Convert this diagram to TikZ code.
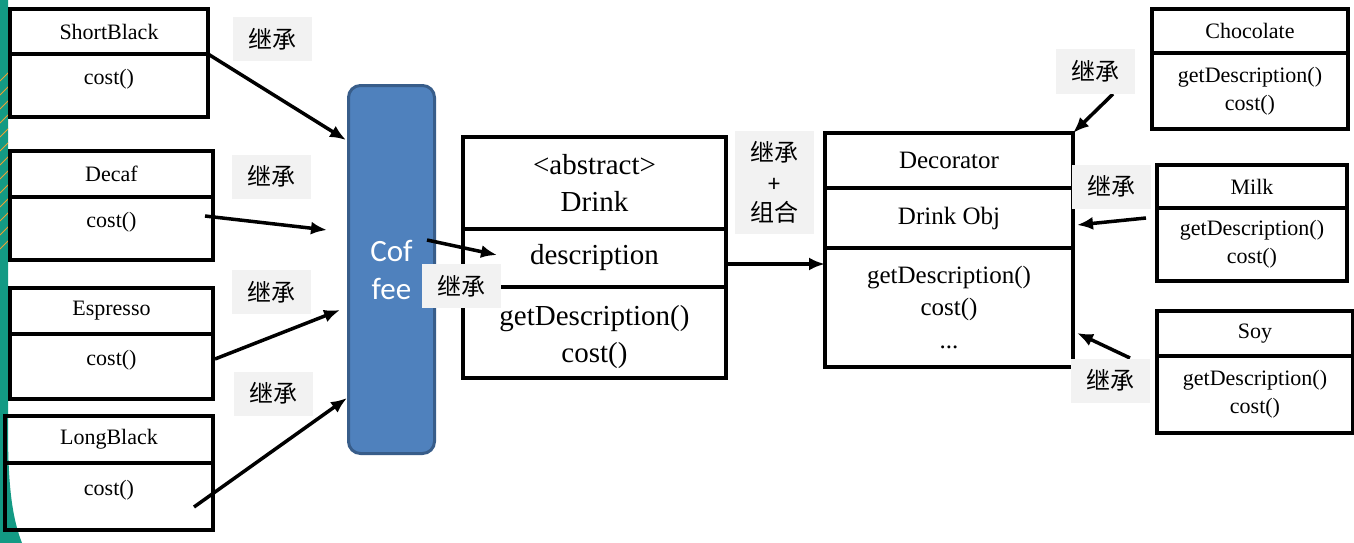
\documentclass[tikz,border=0pt]{standalone}
\usepackage{fontspec}
\setmainfont{Liberation Serif}
\newfontfamily\cjkfont{Noto Sans CJK SC}
\newfontfamily\calfont{Carlito}
\usetikzlibrary{positioning, arrows.meta}
\definecolor{tagbg}{HTML}{F2F2F2}
\definecolor{coffeefill}{HTML}{4F81BD}
\definecolor{coffeeline}{HTML}{385D8A}
\definecolor{stripe}{HTML}{139A84}
\definecolor{stripeline}{HTML}{F0A030}
\tikzset{
  cell/.style={draw, line width=4pt, outer sep=0pt, inner sep=0pt, anchor=north west, align=center},
  small/.style={font=\fontsize{22}{28}\selectfont},
  mid/.style={font=\fontsize{25}{32.5}\selectfont},
  big/.style={font=\fontsize{29}{37}\selectfont},
  tag/.style={fill=tagbg, minimum width=79pt, minimum height=44pt, inner sep=0pt, align=center,
    font=\cjkfont\fontsize{24}{30}\selectfont},
  arr/.style={line width=3.5pt, -{Latex[length=16pt,width=13pt]}},
}

\begin{document}
\begin{tikzpicture}[x=1pt, y=-1pt]
    \fill[white] (0,0) rectangle (1354,543);
    \useasboundingbox (0,0) rectangle (1354,543);

    % slide edge
    \begin{scope}
      \clip (0,0) -- (8,0) -- (8,430) .. controls (8,490) and (13,520) .. (22,543) -- (0,543) -- cycle;
      \fill[stripe] (0,0) rectangle (30,543);
      \foreach \y in {72,86,...,240}
        \draw[stripeline, line width=1pt] (0,\y+9) -- (9,\y);
    \end{scope}

    % concrete drinks
    \node[cell, small, minimum width=198pt, minimum height=45pt] (sb-h) at (10,9) {ShortBlack};
    \node[cell, minimum width=198pt, minimum height=63pt] (sb-b) at (sb-h.south west) {};
    \node[small] at ([yshift=-25pt]sb-b.north) {cost()};

    \node[cell, small, minimum width=203pt, minimum height=46pt] (dc-h) at (10,151) {Decaf};
    \node[cell, minimum width=203pt, minimum height=63pt] (dc-b) at (dc-h.south west) {};
    \node[small] at ([yshift=-25pt]dc-b.north) {cost()};

    \node[cell, small, minimum width=203pt, minimum height=46pt] (es-h) at (10,288) {Espresso};
    \node[cell, minimum width=203pt, minimum height=65pt] (es-b) at (es-h.south west) {};
    \node[small] at ([yshift=-26pt]es-b.north) {cost()};

    \node[cell, small, minimum width=208pt, minimum height=47pt] (lb-h) at (5,416) {LongBlack};
    \node[cell, minimum width=208pt, minimum height=67pt] (lb-b) at (lb-h.south west) {};
    \node[small] at ([yshift=-27pt]lb-b.north) {cost()};

    \node[draw=coffeeline, fill=coffeefill, line width=3pt, rounded corners=12pt, anchor=north west,
      minimum width=86pt, minimum height=368pt, text=white, align=center,
      font=\calfont\fontsize{31}{38}\selectfont] (coffee) at (347,84) {Cof\\fee};

    % Drink
    \node[cell, big, minimum width=263pt, minimum height=92pt] (dr-h) at (463,137) {<abstract>\\Drink};
    \node[cell, big, minimum width=263pt, minimum height=58pt] (dr-a) at (dr-h.south west) {description};
    \node[cell, minimum width=263pt, minimum height=91pt] (dr-m) at (dr-a.south west) {};
    \node[big, align=center] at ([yshift=-5pt]dr-m.center) {getDescription()\\cost()};

    % Decorator
    \node[cell, mid, minimum width=248pt, minimum height=55pt] (dec-h) at (825,133) {Decorator};
    \node[cell, mid, minimum width=248pt, minimum height=60pt] (dec-a) at (dec-h.south west) {Drink Obj};
    \node[cell, mid, minimum width=248pt, minimum height=119pt] (dec-m) at (dec-a.south west) {getDescription()\\cost()\\...};

    % condiments
    \node[cell, small, minimum width=196pt, minimum height=44pt] (ch-h) at (1152,9) {Chocolate};
    \node[cell, small, minimum width=196pt, minimum height=76pt] (ch-b) at (ch-h.south west) {getDescription()\\cost()};

    \node[cell, small, minimum width=190pt, minimum height=43pt] (mk-h) at (1157,165) {Milk};
    \node[cell, small, minimum width=190pt, minimum height=73pt] (mk-b) at (mk-h.south west) {getDescription()\\cost()};

    \node[cell, small, minimum width=196pt, minimum height=45pt] (sy-h) at (1157,311) {Soy};
    \node[cell, small, minimum width=196pt, minimum height=77pt] (sy-b) at (sy-h.south west) {getDescription()\\cost()};

    % arrow ends
    \coordinate (cf-in1) at (346,140);
    \coordinate (dc-out) at (205,216);
    \coordinate (cf-in2) at (327,230);
    \coordinate (es-out) at (215,359);
    \coordinate (cf-in3) at (340,310);
    \coordinate (lb-out) at (194,507);
    \coordinate (cf-in4) at (347,398);
    \coordinate (cf-out) at (427,240);
    \coordinate (dr-in) at (497,255);
    \coordinate (ch-out) at (1113,94);
    \coordinate (mk-out) at (1146,218);
    \coordinate (dec-in2) at (1077,225);
    \coordinate (sy-out) at (1130,358);
    \coordinate (dec-in3) at (1077,333);

    \draw[arr] (sb-h.south east) -- (cf-in1);
    \draw[arr] (dc-out) -- (cf-in2);
    \draw[arr] (es-out) -- (cf-in3);
    \draw[arr] (lb-out) -- (cf-in4);
    \draw[arr] (cf-out) -- (dr-in);
    \draw[arr] ([yshift=-6pt]dr-a.east) -- ([yshift=-6pt]dr-a.east -| dec-m.west);
    \draw[arr] (ch-out) -- (dec-h.north east);
    \draw[arr] (mk-out) -- (dec-in2);
    \draw[arr] (sy-out) -- (dec-in3);

    % labels
    \node[tag] (t-sb) at (272.5,39) {继承};
    \node[tag] (t-dc) at (271.5,176.5) {继承};
    \node[tag] (t-es) at (271.5,292) {继承};
    \node[tag] (t-lb) at (273,393.5) {继承};
    \node[tag] (t-cf) at (461.5,286) {继承};
    \node[tag, minimum height=103pt] (t-dr) at (774,182.5) {继承\\{\calfont +}\\组合};
    \node[tag] (t-ch) at (1095.5,71.5) {继承};
    \node[tag] (t-mk) at (1111.5,186.5) {继承};
    \node[tag] (t-sy) at (1110.5,380.5) {继承};
\end{tikzpicture}
\end{document}
